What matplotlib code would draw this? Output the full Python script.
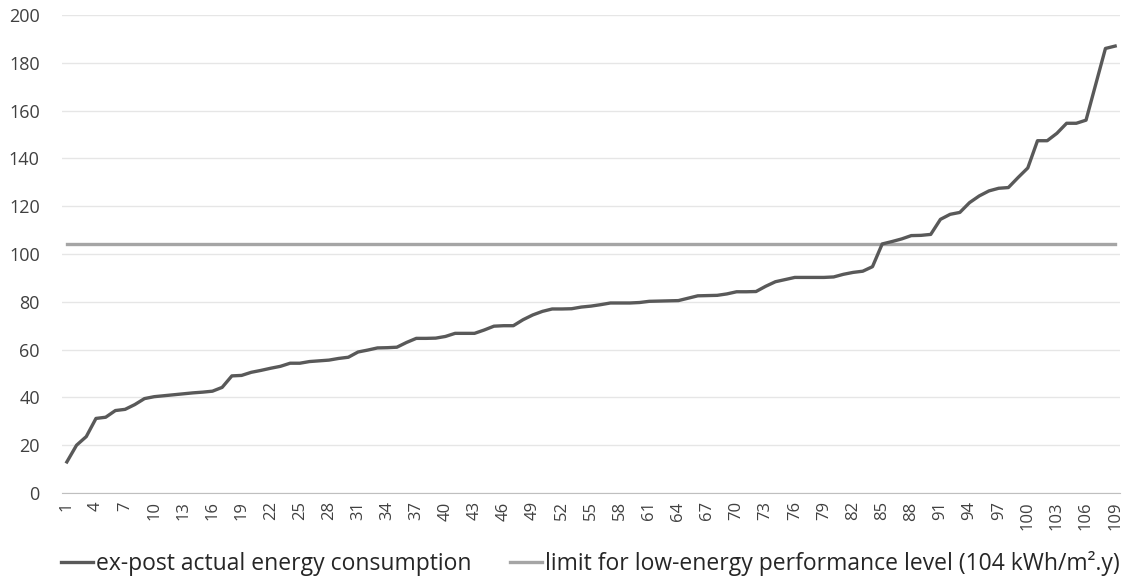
import numpy as np
import matplotlib.pyplot as plt

# ex-post actual energy consumption per building, sorted (kWh/m2.y)
consumption = [
    13.0, 20.0, 23.6, 31.2, 31.7, 34.5, 35.0, 37.0, 39.5, 40.3,
    40.7, 41.1, 41.5, 41.9, 42.2, 42.6, 44.2, 49.0, 49.2, 50.5,
    51.3, 52.2, 53.0, 54.3, 54.3, 55.0, 55.3, 55.6, 56.3, 56.8,
    59.0, 59.8, 60.7, 60.8, 61.0, 63.0, 64.7, 64.7, 64.8, 65.5,
    66.8, 66.8, 66.8, 68.2, 69.8, 70.0, 70.0, 72.5, 74.5, 76.0,
    77.0, 77.0, 77.1, 77.8, 78.2, 78.8, 79.5, 79.5, 79.5, 79.7,
    80.2, 80.3, 80.4, 80.5, 81.5, 82.5, 82.6, 82.7, 83.3, 84.2,
    84.2, 84.3, 86.5, 88.4, 89.3, 90.2, 90.2, 90.2, 90.2, 90.4,
    91.5, 92.3, 92.8, 94.7, 104.2, 105.2, 106.3, 107.7, 107.8, 108.2,
    114.5, 116.6, 117.4, 121.5, 124.3, 126.4, 127.5, 127.8, 132.0, 136.0,
    147.4, 147.4, 150.5, 154.7, 154.7, 156.0, 171.0, 186.0, 187.0,
]
limit_value = 104
buildings = list(range(1, len(consumption) + 1))
limit = [limit_value] * len(buildings)

plt.rcParams['font.family'] = ['Open Sans', 'DejaVu Sans']

fig = plt.figure(figsize=(11.3, 5.81), dpi=100)
ax = fig.add_axes([62 / 1130, 1 - 493 / 581, (1120 - 62) / 1130, (493 - 15) / 581])

ax.plot(buildings, consumption, color='#595959', lw=2.4, solid_joinstyle='round',
        label='ex-post actual energy consumption', zorder=3)
ax.plot(buildings, limit, color='#a5a5a5', lw=2.4,
        label='limit for low-energy performance level (104 kWh/m².y)', zorder=2)

ax.set_xlim(0.5, len(buildings) + 0.5)
ax.set_ylim(0, 200)
ax.set_yticks(np.arange(0, 201, 20))
ax.set_xticks(buildings[::3])
ax.set_xticklabels([str(b) for b in buildings[::3]], rotation=90)
ax.tick_params(axis='both', length=0, colors='#404040')
ax.tick_params(axis='x', pad=6, labelsize=12)
ax.tick_params(axis='y', pad=16, labelsize=13)

ax.grid(axis='y', color='#e6e6e6', lw=1)
ax.set_axisbelow(True)
for side in ['top', 'right', 'left']:
    ax.spines[side].set_visible(False)
ax.spines['bottom'].set_color('#bfbfbf')

fig.legend(loc='center left', bbox_to_anchor=(0.036, 1 - 564 / 581), ncol=2,
           frameon=False, fontsize=16.5, handlelength=1.4, handletextpad=0.1,
           columnspacing=1.7, labelcolor='#262626')

fig.savefig('out.png', dpi=100)
